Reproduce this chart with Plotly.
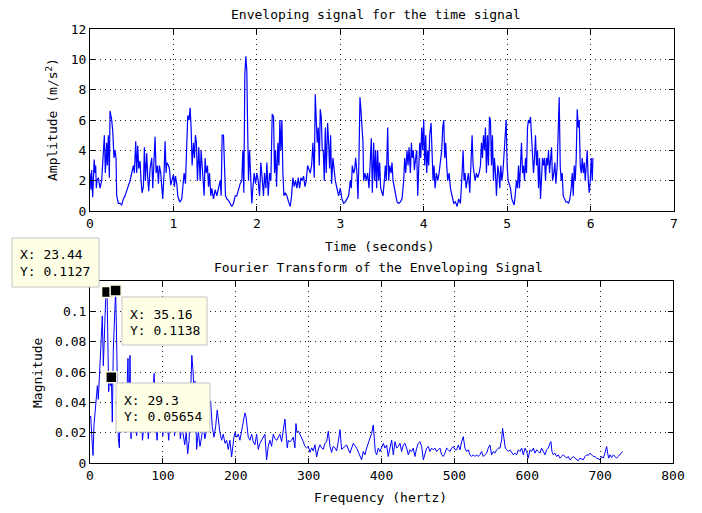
import plotly.graph_objects as go

# ---------------- Data: enveloping time signal ----------------
time_s = [0.000, 0.012, 0.020, 0.032, 0.040, 0.050, 0.060, 0.068, 0.076, 0.084, 0.100, 0.120, 0.140,
          0.160, 0.172, 0.184, 0.200, 0.208, 0.220, 0.232, 0.240, 0.260, 0.272, 0.288, 0.300, 0.312,
          0.320, 0.340, 0.360, 0.380, 0.400, 0.420, 0.440, 0.460, 0.480, 0.500, 0.520, 0.532, 0.548,
          0.560, 0.572, 0.584, 0.600, 0.612, 0.624, 0.640, 0.652, 0.664, 0.680, 0.692, 0.704, 0.720,
          0.740, 0.752, 0.768, 0.780, 0.792, 0.808, 0.820, 0.832, 0.848, 0.860, 0.872, 0.888, 0.900,
          0.912, 0.920, 0.940, 0.952, 0.968, 0.984, 1.000, 1.012, 1.024, 1.040, 1.052, 1.068, 1.080,
          1.100, 1.112, 1.128, 1.144, 1.160, 1.172, 1.188, 1.200, 1.212, 1.224, 1.240, 1.252, 1.264,
          1.276, 1.288, 1.304, 1.320, 1.332, 1.344, 1.356, 1.368, 1.380, 1.392, 1.408, 1.420, 1.432,
          1.448, 1.460, 1.480, 1.500, 1.520, 1.540, 1.560, 1.572, 1.584, 1.600, 1.612, 1.624, 1.640,
          1.660, 1.680, 1.700, 1.720, 1.740, 1.760, 1.780, 1.800, 1.820, 1.832, 1.844, 1.856, 1.868,
          1.880, 1.888, 1.900, 1.912, 1.928, 1.940, 1.952, 1.968, 1.984, 2.000, 2.016, 2.032, 2.048,
          2.064, 2.080, 2.092, 2.108, 2.120, 2.136, 2.152, 2.168, 2.184, 2.200, 2.212, 2.224, 2.236,
          2.252, 2.264, 2.276, 2.288, 2.300, 2.312, 2.324, 2.340, 2.360, 2.380, 2.400, 2.416, 2.432,
          2.448, 2.464, 2.480, 2.496, 2.512, 2.528, 2.544, 2.560, 2.576, 2.592, 2.608, 2.624, 2.640,
          2.656, 2.672, 2.688, 2.700, 2.712, 2.724, 2.736, 2.748, 2.760, 2.772, 2.784, 2.796, 2.808,
          2.820, 2.832, 2.848, 2.860, 2.872, 2.884, 2.896, 2.912, 2.928, 2.940, 2.960, 2.980, 3.000,
          3.020, 3.040, 3.060, 3.080, 3.100, 3.120, 3.132, 3.144, 3.160, 3.172, 3.184, 3.200, 3.212,
          3.224, 3.236, 3.248, 3.260, 3.272, 3.280, 3.296, 3.312, 3.328, 3.344, 3.360, 3.372, 3.384,
          3.400, 3.412, 3.424, 3.436, 3.448, 3.460, 3.472, 3.484, 3.496, 3.512, 3.528, 3.540, 3.552,
          3.568, 3.580, 3.592, 3.608, 3.620, 3.632, 3.648, 3.664, 3.680, 3.700, 3.720, 3.740, 3.760,
          3.772, 3.784, 3.800, 3.812, 3.824, 3.840, 3.852, 3.864, 3.876, 3.888, 3.904, 3.916, 3.928,
          3.940, 3.952, 3.964, 3.976, 3.988, 4.000, 4.012, 4.024, 4.036, 4.048, 4.060, 4.072, 4.088,
          4.100, 4.112, 4.124, 4.136, 4.152, 4.168, 4.184, 4.200, 4.216, 4.228, 4.240, 4.252, 4.264,
          4.276, 4.288, 4.304, 4.320, 4.340, 4.360, 4.380, 4.400, 4.420, 4.440, 4.460, 4.472, 4.484,
          4.496, 4.508, 4.520, 4.536, 4.552, 4.568, 4.580, 4.592, 4.604, 4.616, 4.632, 4.648, 4.664,
          4.680, 4.692, 4.704, 4.716, 4.728, 4.740, 4.752, 4.764, 4.776, 4.788, 4.800, 4.812, 4.824,
          4.836, 4.848, 4.860, 4.872, 4.888, 4.900, 4.912, 4.924, 4.936, 4.948, 4.960, 4.976, 4.988,
          5.000, 5.012, 5.024, 5.040, 5.056, 5.072, 5.084, 5.096, 5.112, 5.124, 5.136, 5.148, 5.160,
          5.172, 5.184, 5.196, 5.208, 5.220, 5.232, 5.244, 5.256, 5.268, 5.280, 5.292, 5.304, 5.316,
          5.328, 5.340, 5.352, 5.364, 5.376, 5.388, 5.400, 5.412, 5.424, 5.436, 5.448, 5.460, 5.472,
          5.484, 5.496, 5.508, 5.520, 5.532, 5.544, 5.560, 5.572, 5.584, 5.600, 5.612, 5.624, 5.636,
          5.648, 5.660, 5.672, 5.688, 5.704, 5.720, 5.736, 5.752, 5.768, 5.780, 5.792, 5.804, 5.816,
          5.828, 5.840, 5.852, 5.864, 5.876, 5.888, 5.900, 5.912, 5.924, 5.936, 5.948, 5.960, 5.972,
          5.984, 5.996, 6.008, 6.020, 6.028]
amplitude = [2.5, 1.4, 2.7, 0.9, 2.0, 3.4, 2.5, 3.0, 1.5, 2.0, 2.2, 1.5, 2.0,
             4.2, 5.0, 2.5, 4.5, 3.0, 5.0, 2.2, 6.6, 6.0, 5.3, 3.5, 4.0, 3.5,
             1.0, 0.5, 0.5, 0.4, 0.8, 1.0, 1.3, 1.6, 2.0, 2.5, 3.0, 2.5, 4.6,
             2.5, 4.3, 2.8, 3.3, 2.0, 1.2, 1.6, 4.2, 2.0, 3.8, 2.2, 1.3, 2.8,
             3.5, 1.5, 4.2, 4.9, 2.5, 3.0, 1.8, 3.0, 2.5, 1.5, 0.8, 2.5, 4.6,
             2.5, 3.2, 3.0, 2.8, 1.7, 2.0, 2.4, 1.6, 2.3, 1.8, 1.0, 0.7, 0.6,
             0.8, 1.5, 2.5, 1.8, 4.0, 6.3, 6.0, 6.8, 5.5, 3.0, 4.5, 3.5, 5.0,
             4.5, 2.0, 4.2, 2.0, 4.0, 3.0, 2.0, 1.0, 3.5, 2.5, 3.0, 1.6, 2.5,
             1.0, 1.5, 0.8, 1.4, 1.0, 1.5, 2.0, 1.0, 5.0, 5.0, 2.0, 1.0, 0.8,
             0.7, 0.5, 0.3, 0.5, 1.0, 1.0, 1.5, 1.8, 2.0, 4.0, 1.2, 9.0, 10.2,
             9.2, 6.0, 2.0, 4.0, 1.2, 0.5, 1.5, 2.5, 1.8, 2.5, 2.0, 1.0, 3.2,
             2.0, 1.0, 2.5, 1.5, 3.2, 1.0, 2.5, 2.0, 6.4, 6.2, 2.5, 4.0, 1.6,
             4.5, 3.0, 6.0, 4.0, 6.0, 2.5, 1.0, 1.2, 1.0, 0.6, 0.3, 1.0, 2.2,
             1.6, 2.0, 1.5, 2.2, 1.5, 2.2, 2.0, 2.3, 1.6, 2.0, 3.0, 2.8, 2.5,
             3.0, 4.5, 2.2, 7.7, 6.0, 4.5, 5.5, 3.0, 6.7, 6.2, 4.0, 4.0, 2.0,
             5.5, 2.5, 5.8, 4.5, 2.8, 5.0, 1.8, 3.5, 2.5, 2.0, 1.5, 1.0, 1.5,
             0.8, 0.5, 0.6, 0.8, 1.0, 2.0, 1.5, 3.0, 2.5, 2.7, 3.5, 2.5, 0.8,
             3.5, 7.5, 6.6, 5.5, 4.5, 2.0, 2.5, 2.0, 2.5, 1.5, 3.5, 4.8, 1.2,
             4.5, 2.0, 4.0, 1.5, 4.0, 2.0, 3.2, 1.5, 1.2, 1.0, 2.0, 3.0, 2.0,
             5.5, 2.0, 3.0, 2.5, 3.2, 2.0, 1.5, 1.0, 0.6, 0.5, 0.6, 0.8, 2.0,
             3.5, 2.5, 4.0, 3.0, 4.2, 2.5, 4.5, 3.5, 4.0, 2.7, 3.5, 4.0, 1.0,
             3.0, 4.5, 3.5, 5.5, 4.0, 6.0, 3.0, 5.0, 2.5, 4.0, 3.0, 5.0, 5.8,
             3.5, 2.0, 3.0, 1.5, 2.5, 2.0, 2.5, 3.5, 4.0, 5.5, 6.0, 3.5, 4.5,
             3.0, 2.0, 2.5, 1.5, 1.0, 0.5, 0.6, 0.3, 0.8, 0.5, 2.5, 4.0, 2.0,
             2.5, 1.5, 2.0, 2.5, 1.2, 4.3, 5.0, 3.0, 2.5, 2.0, 2.5, 2.2, 2.5,
             3.0, 4.5, 3.5, 5.0, 4.0, 5.5, 2.5, 5.0, 3.0, 6.2, 6.0, 3.0, 5.0,
             2.0, 3.5, 2.5, 1.0, 3.0, 2.5, 1.5, 3.0, 2.0, 2.5, 3.5, 5.5, 6.0,
             3.0, 2.0, 1.8, 1.5, 0.8, 0.6, 0.4, 1.0, 2.0, 1.5, 3.0, 1.5, 3.5,
             4.5, 2.5, 3.0, 2.0, 3.5, 2.5, 5.5, 6.0, 5.8, 6.2, 5.0, 3.0, 2.5,
             3.5, 5.0, 3.0, 4.0, 1.5, 3.5, 0.8, 2.5, 3.5, 3.0, 3.5, 2.0, 3.5,
             3.0, 4.0, 2.5, 3.5, 4.2, 2.0, 2.5, 3.2, 1.8, 3.0, 5.0, 7.5, 3.0,
             2.0, 2.5, 1.0, 0.8, 0.6, 0.6, 0.5, 0.8, 1.5, 2.5, 1.0, 3.0, 2.0,
             3.5, 6.7, 5.5, 6.0, 3.0, 2.5, 3.5, 2.5, 3.2, 2.0, 3.0, 4.0, 2.0,
             1.2, 2.0, 3.5, 2.0, 3.5]

# ---------------- Data: Fourier transform magnitude ----------------
freq_hz = [0.0, 0.9, 2.7, 4.1, 5.5, 7.3, 8.7, 10.1, 11.4, 12.8, 14.2, 15.6, 16.9, 18.3, 20.1, 21.5,
           23.44, 24.2, 25.6, 27.0, 28.4, 29.3, 30.6, 32.0, 33.4, 35.16, 36.1, 37.5, 38.9, 40.3,
           41.6, 43.0, 44.8, 46.2, 47.6, 49.0, 50.3, 52.1, 53.5, 54.9, 56.3, 57.0, 59.5, 62.0,
           64.0, 66.0, 68.0, 70.0, 72.0, 74.0, 76.0, 78.0, 80.0, 82.0, 84.0, 86.0, 88.0, 90.0,
           92.0, 94.0, 96.0, 98.0, 100.0, 102.0, 104.0, 106.0, 108.0, 110.0, 112.0, 114.0, 116.0,
           118.0, 120.0, 122.0, 124.0, 126.0, 128.0, 130.0, 132.0, 134.0, 136.0, 138.0, 139.7,
           141.5, 143.0, 144.0, 146.3, 148.6, 150.9, 153.1, 155.4, 157.7, 160.0, 162.3, 165.5,
           167.8, 170.1, 172.4, 174.6, 176.0, 178.3, 180.6, 182.9, 185.2, 187.5, 189.7, 192.0,
           194.3, 195.7, 197.5, 198.9, 201.2, 203.5, 205.7, 208.0, 210.3, 212.6, 214.0, 215.8,
           217.2, 219.5, 221.8, 224.0, 226.3, 228.6, 230.9, 233.2, 235.5, 237.8, 240.0, 242.3,
           244.6, 246.9, 249.2, 251.5, 253.8, 256.1, 258.4, 260.6, 262.9, 265.2, 267.5, 268.9,
           270.7, 272.1, 274.4, 276.6, 278.9, 281.2, 282.6, 284.0, 285.8, 288.1, 290.4, 292.7,
           294.9, 297.2, 299.5, 301.8, 304.1, 306.4, 308.7, 311.0, 313.2, 315.5, 317.8, 320.1,
           322.4, 324.7, 327.0, 329.3, 331.5, 333.8, 336.1, 338.4, 340.7, 343.0, 345.3, 347.5,
           349.8, 352.1, 356.7, 361.3, 365.9, 370.4, 372.7, 375.0, 377.3, 379.6, 381.9, 384.2,
           386.5, 388.7, 390.1, 391.5, 393.3, 395.6, 397.9, 400.2, 402.5, 404.7, 407.0, 409.3,
           411.6, 413.9, 416.2, 418.5, 420.8, 423.0, 425.3, 427.6, 429.9, 432.2, 434.5, 436.8,
           439.1, 441.3, 443.6, 445.9, 448.2, 450.5, 452.8, 455.1, 457.4, 459.6, 461.9, 464.2,
           466.5, 468.8, 471.1, 473.4, 475.6, 477.9, 480.2, 482.5, 484.8, 487.1, 489.4, 491.7,
           493.9, 496.2, 498.5, 500.8, 503.1, 505.4, 507.7, 510.0, 512.2, 514.5, 516.8, 519.1,
           521.4, 523.7, 526.0, 528.2, 530.5, 532.8, 535.1, 537.4, 539.7, 542.0, 544.3, 546.5,
           548.8, 551.1, 553.4, 555.7, 558.0, 560.3, 562.6, 564.8, 566.2, 568.0, 569.9, 571.7,
           574.0, 576.3, 578.6, 580.8, 583.1, 585.4, 587.7, 590.0, 592.3, 594.6, 596.9, 599.1,
           601.4, 603.7, 606.0, 608.3, 610.6, 612.9, 615.2, 617.4, 619.7, 622.0, 624.3, 626.6,
           628.9, 631.2, 632.5, 633.9, 635.7, 638.0, 640.3, 642.6, 644.9, 647.2, 649.5, 651.7,
           654.0, 656.3, 658.6, 660.9, 663.2, 665.5, 667.8, 670.0, 672.3, 674.6, 676.9, 679.2,
           681.5, 683.8, 686.1, 688.3, 690.6, 692.9, 695.2, 697.5, 699.8, 702.1, 704.4, 706.6,
           708.9, 710.3, 711.7, 713.5, 715.8, 718.1, 720.4, 722.6, 724.9, 727.2, 729.5, 730.9]
magnitude = [0.030, 0.031, 0.016, 0.005, 0.025, 0.036, 0.045, 0.051, 0.042, 0.058, 0.075, 0.086,
             0.097, 0.064, 0.090, 0.108, 0.1127, 0.075, 0.047, 0.057, 0.051, 0.05654, 0.027,
             0.075, 0.097, 0.1138, 0.093, 0.064, 0.016, 0.010, 0.047, 0.031, 0.053, 0.036,
             0.047, 0.020, 0.047, 0.069, 0.022, 0.071, 0.016, 0.030, 0.020, 0.035, 0.018, 0.028,
             0.022, 0.035, 0.015, 0.025, 0.020, 0.030, 0.016, 0.028, 0.024, 0.038, 0.059, 0.030,
             0.015, 0.030, 0.022, 0.028, 0.018, 0.032, 0.020, 0.026, 0.015, 0.030, 0.022, 0.035,
             0.018, 0.028, 0.022, 0.032, 0.016, 0.025, 0.018, 0.012, 0.020, 0.006, 0.015, 0.045,
             0.071, 0.060, 0.040, 0.054, 0.009, 0.021, 0.011, 0.017, 0.025, 0.016, 0.021, 0.028,
             0.041, 0.024, 0.017, 0.024, 0.035, 0.028, 0.020, 0.015, 0.019, 0.013, 0.015, 0.009,
             0.015, 0.004, 0.011, 0.017, 0.020, 0.017, 0.019, 0.015, 0.021, 0.026, 0.033, 0.031,
             0.024, 0.017, 0.015, 0.019, 0.014, 0.012, 0.019, 0.009, 0.013, 0.015, 0.017, 0.019,
             0.002, 0.011, 0.015, 0.011, 0.019, 0.016, 0.015, 0.017, 0.019, 0.014, 0.021, 0.029,
             0.020, 0.010, 0.015, 0.014, 0.015, 0.017, 0.010, 0.026, 0.020, 0.021, 0.019, 0.017,
             0.014, 0.011, 0.010, 0.011, 0.007, 0.010, 0.008, 0.012, 0.004, 0.009, 0.012, 0.010,
             0.009, 0.013, 0.014, 0.021, 0.011, 0.007, 0.011, 0.010, 0.008, 0.014, 0.022, 0.009,
             0.010, 0.011, 0.0119, 0.0065, 0.0130, 0.0098, 0.0054, 0.0021, 0.0076, 0.0054,
             0.0098, 0.0130, 0.0163, 0.0196, 0.0251, 0.0163, 0.0076, 0.0054, 0.0098, 0.0076,
             0.0098, 0.0130, 0.0098, 0.0119, 0.0043, 0.0098, 0.0152, 0.0054, 0.0141, 0.0098,
             0.0109, 0.0130, 0.0076, 0.0119, 0.0130, 0.0098, 0.0054, 0.0087, 0.0076, 0.0098,
             0.0043, 0.0098, 0.0130, 0.0141, 0.0109, 0.0021, 0.0065, 0.0098, 0.0109, 0.0076,
             0.0098, 0.0087, 0.0098, 0.0076, 0.0087, 0.0098, 0.0054, 0.0043, 0.0065, 0.0098,
             0.0087, 0.0076, 0.0098, 0.0109, 0.0087, 0.0087, 0.0119, 0.0087, 0.0141, 0.0174,
             0.0098, 0.0076, 0.0087, 0.0054, 0.0043, 0.0054, 0.0043, 0.0054, 0.0043, 0.0054,
             0.0076, 0.0043, 0.0054, 0.0065, 0.0098, 0.0119, 0.0054, 0.0076, 0.0065, 0.0087,
             0.0098, 0.0098, 0.0152, 0.0229, 0.0163, 0.0098, 0.0087, 0.0076, 0.0087, 0.0065,
             0.0054, 0.0065, 0.0054, 0.0087, 0.0076, 0.0098, 0.0054, 0.0098, 0.0076, 0.0032,
             0.0087, 0.0076, 0.0098, 0.0065, 0.0087, 0.0076, 0.0065, 0.0098, 0.0076, 0.0054,
             0.0087, 0.0098, 0.0130, 0.0141, 0.0076, 0.0054, 0.0065, 0.0043, 0.0054, 0.0032,
             0.0043, 0.0054, 0.0043, 0.0032, 0.0043, 0.0021, 0.0032, 0.0043, 0.0032, 0.0021,
             0.0015, 0.0032, 0.0028, 0.0021, 0.0043, 0.0054, 0.0050, 0.0065, 0.0054, 0.0043,
             0.0043, 0.0032, 0.0028, 0.0021, 0.0043, 0.0032, 0.0065, 0.0109, 0.0065, 0.0032,
             0.0054, 0.0036, 0.0054, 0.0043, 0.0032, 0.0043, 0.0054, 0.0065, 0.0076]

# ---------------- Data tips ----------------
tip_x = [23.44, 35.16, 29.3]
tip_y = [0.1127, 0.1138, 0.05654]
tip_x_text = ["23.44", "35.16", "29.3"]
tip_y_text = ["0.1127", "0.1138", "0.05654"]
# box positions (pixels: left, top, right, bottom)
tip_boxes = [(12, 238, 99, 287), (122, 297, 207, 345), (116, 383, 210, 432)]

top_ticks_x = [0, 1, 2, 3, 4, 5, 6, 7]
top_ticks_y = [0, 2, 4, 6, 8, 10, 12]
bot_ticks_x = [0, 100, 200, 300, 400, 500, 600, 700, 800]
bot_ticks_y = [0, 0.02, 0.04, 0.06, 0.08, 0.1]

W, H = 702, 513
FONT = "DejaVu Sans Mono"


def px(x):
    return x / W


def py(y):
    return 1 - y / H


fig = go.Figure()
fig.add_trace(go.Scatter(x=time_s, y=amplitude, mode="lines",
                         line=dict(color="#0000ff", width=1.2), xaxis="x", yaxis="y",
                         showlegend=False, hoverinfo="skip"))
fig.add_trace(go.Scatter(x=freq_hz, y=magnitude, mode="lines",
                         line=dict(color="#0000ff", width=1), xaxis="x2", yaxis="y2",
                         showlegend=False, hoverinfo="skip"))
fig.add_trace(go.Scatter(x=tip_x, y=tip_y, mode="markers",
                         marker=dict(symbol="square", size=11, color="black",
                                     line=dict(color="#ffffe6", width=1.5)),
                         xaxis="x2", yaxis="y2", showlegend=False, hoverinfo="skip",
                         cliponaxis=False))

axis_common = dict(showline=True, linecolor="black", linewidth=1, mirror="ticks",
                   ticks="inside", ticklen=5, tickcolor="black", showgrid=True,
                   gridcolor="#222222", griddash="1px,4px", gridwidth=1, zeroline=False,
                   automargin=False,
                   tickfont=dict(family=FONT, size=13, color="black"))

fig.update_layout(
    template="none",
    width=W, height=H, margin=dict(l=0, r=0, t=0, b=0, autoexpand=False),
    paper_bgcolor="white", plot_bgcolor="white",
    font=dict(family=FONT, size=13, color="black"),
    xaxis=dict(domain=[px(90), px(674)], range=[0, 7], tickvals=top_ticks_x, anchor="y",
               **axis_common),
    yaxis=dict(domain=[py(211), py(29)], range=[0, 12], tickvals=top_ticks_y, anchor="x",
               **axis_common),
    xaxis2=dict(domain=[px(90), px(673)], range=[0, 800], tickvals=bot_ticks_x, anchor="y2",
                **axis_common),
    yaxis2=dict(domain=[py(463), py(281)], range=[0, 0.12], tickvals=bot_ticks_y, anchor="x2",
                **axis_common),
)

annotations = [
    dict(text="Enveloping signal for the time signal", x=px(376), y=py(14)),
    dict(text="Time (seconds)", x=px(380), y=py(246)),
    dict(text="Fourier Transform of the Enveloping Signal", x=px(378), y=py(267)),
    dict(text="Frequency (hertz)", x=px(380), y=py(497)),
    dict(text="Amplitude (m/s<sup>2</sup>)", x=px(52), y=py(120), textangle=-90),
    dict(text="Magnitude", x=px(37), y=py(373), textangle=-90),
]
for a in annotations:
    a.update(xref="paper", yref="paper", xanchor="center", yanchor="middle",
             showarrow=False, font=dict(family=FONT, size=13, color="black"))

shapes = []
for (l, t, r, b), xs, ys in zip(tip_boxes, tip_x_text, tip_y_text):
    shapes.append(dict(type="rect", xref="paper", yref="paper",
                       x0=px(l), x1=px(r), y0=py(b), y1=py(t),
                       fillcolor="#ffffe6", line=dict(color="#c4c4c4", width=1),
                       layer="above"))
    annotations.append(dict(text="X: " + xs, x=px(l + 6), y=py(t + 17), xref="paper",
                            yref="paper", xanchor="left", yanchor="middle", showarrow=False,
                            font=dict(family=FONT, size=13, color="black")))
    annotations.append(dict(text="Y: " + ys, x=px(l + 6), y=py(t + 33), xref="paper",
                            yref="paper", xanchor="left", yanchor="middle", showarrow=False,
                            font=dict(family=FONT, size=13, color="black")))

fig.update_layout(annotations=annotations, shapes=shapes)
fig.write_html("out.html")
